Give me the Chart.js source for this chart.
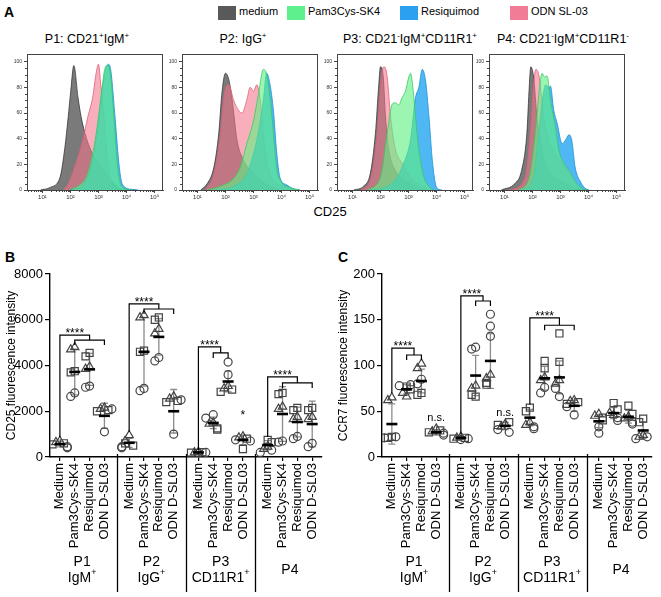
<!DOCTYPE html>
<html>
<head>
<meta charset="utf-8">
<script src="https://cdn.jsdelivr.net/npm/chart.js@4.4.0/dist/chart.umd.min.js"></script>
<style>
  body { margin: 0; width: 661px; height: 597px; background: #fff; position: relative; overflow: hidden;
         font-family: "Liberation Sans", Arial, sans-serif; color: #000; }
  canvas { position: absolute; }
  .lbl { position: absolute; white-space: nowrap; }
  .panel { font-weight: bold; font-size: 14px; }
  .title { font-size: 12.5px; text-align: center; }
  .title sup { font-size: 8px; }
  .leg { position: absolute; top: 6px; height: 14px; }
  .legtxt { position: absolute; top: 5px; font-size: 11px; }
</style>
</head>
<body>
<div class="lbl panel" style="left:4px;top:4px">A</div>
<div class="lbl panel" style="left:5px;top:249px">B</div>
<div class="lbl panel" style="left:338px;top:249px">C</div>
<div id="legend"></div>
<div class="lbl title" style="left:19px;top:31px;width:136px">P1: CD21<sup>+</sup>IgM<sup>+</sup></div>
<div class="lbl title" style="left:175px;top:31px;width:136px">P2: IgG<sup>+</sup></div>
<div class="lbl title" style="left:342px;top:31px;width:136px">P3: CD21<sup>-</sup>IgM<sup>+</sup>CD11R1<sup>+</sup></div>
<div class="lbl title" style="left:495px;top:31px;width:136px">P4: CD21<sup>-</sup>IgM<sup>+</sup>CD11R1<sup>-</sup></div>
<div class="lbl" style="left:300px;top:204px;width:60px;text-align:center;font-size:13px">CD25</div>

<canvas id="h0" width="162" height="157" style="left:5px;top:49px"></canvas>
<canvas id="h1" width="162" height="157" style="left:160px;top:49px"></canvas>
<canvas id="h2" width="162" height="157" style="left:315px;top:49px"></canvas>
<canvas id="h3" width="162" height="157" style="left:467px;top:49px"></canvas>
<canvas id="cd25" width="330" height="352" style="left:0px;top:245px"></canvas>
<canvas id="ccr7" width="329" height="352" style="left:332px;top:245px"></canvas>

<script>
// ---------- panel A: CD25 histograms, points are [log10 CD25, % of max] ----------
const treatNames = ['medium', 'Pam3Cys-SK4', 'Resiquimod', 'ODN SL-03'];
const treatColors = ['#595959', '#5ef08c', '#2b9ff0', '#f07d95'];

const p1Medium = [[0.93,0],[1.28,2],[1.63,10],[1.80,33],[1.92,57],[2.01,77],[2.12,97],[2.27,72],[2.38,57],[2.56,41],[2.91,23],[3.26,13],[3.55,5],[3.78,1],[4.07,0]];
const p1Pam = [[1.98,0],[2.33,4],[2.56,10],[2.79,28],[2.97,52],[3.14,82],[3.23,95],[3.31,97],[3.41,93],[3.55,57],[3.66,23],[3.78,5],[3.95,1],[4.19,0]];
const p1Resi = [[1.98,0],[2.44,4],[2.79,23],[3.02,57],[3.20,88],[3.35,98],[3.44,93],[3.60,54],[3.74,18],[3.86,4],[4.19,0.5],[4.42,0]];
const p1Odn = [[1.74,0],[1.92,5],[2.15,18],[2.44,39],[2.62,57],[2.79,72],[2.93,93],[3.00,98],[3.08,82],[3.20,57],[3.31,26],[3.43,8],[3.55,1],[3.66,0]];

const p2Medium = [[1.12,0],[1.35,5],[1.59,18],[1.76,44],[1.88,77],[2.00,91],[2.12,86],[2.24,70],[2.41,39],[2.65,23],[3.00,13],[3.35,6],[3.59,3],[3.94,0]];
const p2Pam = [[1.35,0],[1.82,3],[2.29,9],[2.53,18],[2.76,36],[3.00,54],[3.18,75],[3.35,94],[3.47,90],[3.59,72],[3.71,44],[3.82,18],[4.00,6],[4.29,2],[4.65,0]];
const p2Resi = [[1.59,0],[2.29,3],[2.76,13],[3.12,39],[3.35,70],[3.47,91],[3.59,82],[3.71,62],[3.82,31],[3.94,10],[4.18,4],[4.41,1],[4.65,0]];
const p2Odn = [[1.29,0],[1.59,13],[1.82,44],[1.96,75],[2.12,82],[2.29,70],[2.47,62],[2.59,60],[2.76,70],[2.88,80],[3.00,77],[3.12,82],[3.24,70],[3.35,44],[3.47,23],[3.65,9],[3.94,4],[4.29,0.5],[4.53,0]];

const p3Medium = [[1.05,0],[1.40,3],[1.64,13],[1.82,44],[1.94,82],[2.00,96],[2.10,88],[2.18,57],[2.30,31],[2.54,15],[2.83,8],[3.19,4],[3.43,1],[3.67,0]];
const p3Pam = [[1.52,0],[2.00,10],[2.24,44],[2.42,67],[2.54,68],[2.65,66],[2.77,72],[2.89,77],[3.01,88],[3.07,91],[3.17,77],[3.25,57],[3.37,31],[3.55,10],[3.73,3],[3.90,0]];
const p3Resi = [[1.64,0],[2.24,3],[2.60,10],[2.83,21],[3.07,39],[3.25,72],[3.37,80],[3.49,94],[3.61,85],[3.73,57],[3.85,23],[3.96,5],[4.08,0.5],[4.20,0]];
const p3Odn = [[1.29,0],[1.64,8],[1.88,44],[2.06,93],[2.14,96],[2.24,88],[2.36,57],[2.54,31],[2.77,21],[3.07,10],[3.43,4],[3.79,0.5],[3.90,0]];

const p4Medium = [[0.89,0],[1.37,5],[1.61,15],[1.80,44],[1.89,82],[1.94,96],[2.04,88],[2.16,57],[2.34,31],[2.58,15],[2.94,8],[3.30,4],[3.66,1],[3.90,0]];
const p4Pam = [[1.49,0],[1.86,8],[2.10,44],[2.24,77],[2.34,91],[2.43,88],[2.52,89],[2.64,70],[2.82,49],[2.94,31],[3.12,21],[3.30,15],[3.54,6],[3.78,1],[3.96,0]];
const p4Resi = [[1.61,0],[2.04,10],[2.22,44],[2.40,77],[2.48,82],[2.58,80],[2.64,81],[2.76,62],[2.88,52],[3.06,36],[3.18,39],[3.30,43],[3.40,39],[3.52,18],[3.72,6],[3.90,1],[4.02,0]];
const p4Odn = [[1.19,0],[1.73,9],[1.92,44],[2.04,82],[2.12,94],[2.24,88],[2.40,57],[2.58,39],[2.82,28],[3.06,21],[3.24,15],[3.42,8],[3.60,3],[3.78,0]];

const histSets = [
  [p1Medium, p1Pam, p1Resi, p1Odn],
  [p2Medium, p2Pam, p2Resi, p2Odn],
  [p3Medium, p3Pam, p3Resi, p3Odn],
  [p4Medium, p4Pam, p4Resi, p4Odn]
];
const histDecades = [1, 2, 3, 4, 5];
const histYTicks = [0, 20, 40, 60, 80, 100];

// ---------- panels B and C ----------
const treatments = ['Medium', 'Pam3Cys-SK4', 'Resiquimod', 'ODN D-SL03'];
const groups = ['P1', 'P2', 'P3', 'P4'];
const groupSub = ['IgM', 'IgG', 'CD11R1', ''];
const donorShapes = ['triangle', 'triangle', 'rect', 'rect', 'circle', 'circle', 'circle'];

// CD25 per donor, [group][treatment][donor]
const cd25P1 = [[700,650,600,550,450,400],[4800,4700,3750,3700,2800,2650],[3950,3850,4550,4400,3100,3050],[2150,2100,2050,2000,2100,1100]];
const cd25P2 = [[950,700,600,500,450,400],[6200,6100,4650,4600,3000,2900],[5600,5400,6100,6000,4350,4200],[2650,2550,2450,2400,2500,1000]];
const cd25P3 = [[220,200,210,190,200,180],[1500,1450,1250,1200,1850,1700],[3100,3000,2950,2850,4150,3600],[900,850,800,350,750,700]];
const cd25P4 = [[450,350,750,650,300,200],[2200,2100,2800,2750,700,650],[1750,1650,2150,2050,900,800],[1750,1650,2150,2050,600,450]];
const cd25Mean = [[560,3720,3830,1800],[620,4600,5250,2000],[200,1490,3300,740],[520,1880,1530,1440]];
const cd25Sd = [[120,1000,700,550],[200,1500,800,950],[20,250,450,200],[200,1200,650,1000]];
const cd25Sig = [
  { group: 0, sub: [1, 3], top: 5330, subY: 5110, leg: 870, text: '****' },
  { group: 1, sub: [1, 3], top: 6690, subY: 6470, leg: 1100, text: '****' },
  { group: 2, sub: [1, 2], top: 4810, subY: 4550, leg: 300, text: '****' },
  { group: 3, sub: [1, 3], top: 3500, subY: 3240, leg: 870, text: '****' }
];
const cd25Notes = [{ group: 2, item: 3, y: 1650, text: '*' }];

// CCR7 per donor
const ccr7P1 = [[65,62,22,21,22,21],[66,70,77,74,79,78],[102,97,70,68,85,80],[31,28,29,27,26,24]];
const ccr7P2 = [[22,21,21,20,20,19],[78,75,66,68,120,118],[90,86,81,79,156,143,132],[36,33,38,35,30,27]];
const ccr7P3 = [[38,35,54,50,33,31],[87,84,105,97,76,70],[84,80,135,104,75,66],[62,61,60,58,55,46]];
const ccr7P4 = [[47,45,43,40,33,26],[46,48,59,52,43,40],[44,42,56,47,38,36],[24,22,42,38,22,20]];
const ccr7Mean = [[36,74,83,27],[21,89,105,34],[43,86,87,56],[39,48,44,29]];
const ccr7Sd = [[22,5,13,3],[1.5,22,30,4],[9,13,18,6],[7,6,7,9]];
const ccr7Sig = [
  { group: 0, sub: [1, 2], top: 119, subY: 111.5, leg: 70, text: '****' },
  { group: 1, sub: [1, 2], top: 176, subY: 170.5, leg: 25, text: '****' },
  { group: 2, sub: [1, 3], top: 152, subY: 144, leg: 57, text: '****' }
];
const ccr7Notes = [{ group: 0, item: 3, y: 39, text: 'n.s.' }, { group: 1, item: 3, y: 45, text: 'n.s.' }];

// legend
const legendLefts = [218, 287, 400, 510];
const legend = document.getElementById('legend');
treatNames.forEach((name, i) => {
  const box = document.createElement('div');
  box.className = 'leg';
  box.style.left = legendLefts[i] + 'px';
  box.style.width = '18px';
  box.style.background = treatColors[i];
  legend.appendChild(box);
  const t = document.createElement('div');
  t.className = 'legtxt';
  t.style.left = (legendLefts[i] + 21) + 'px';
  t.textContent = name;
  legend.appendChild(t);
});

const histFills = ['rgba(85,85,85,0.78)', 'rgba(95,240,130,0.62)', 'rgba(35,165,240,0.8)', 'rgba(245,115,140,0.58)'];
const histLines = ['#383838', '#3cc862', '#1a8fd8', '#e0607a'];
const supDigits = { 1: '\u00b9', 2: '\u00b2', 3: '\u00b3', 4: '\u2074', 5: '\u2075' };

// frame + minor ticks for the histograms
const histFrame = {
  id: 'histFrame',
  afterDraw(chart) {
    const { ctx, chartArea: a, scales: { x, y } } = chart;
    ctx.save();
    ctx.strokeStyle = '#444';
    ctx.lineWidth = 1;
    ctx.strokeRect(a.left + 0.5, a.top + 0.5, a.right - a.left - 1, a.bottom - a.top);
    ctx.beginPath();
    for (let d = 0; d <= 5; d++) {
      for (let k = 2; k <= 9; k++) {
        const v = d + Math.log10(k);
        if (v < x.min || v > x.max) continue;
        const px = Math.round(x.getPixelForValue(v)) + 0.5;
        ctx.moveTo(px, a.bottom);
        ctx.lineTo(px, a.bottom + 2);
      }
    }
    for (let v = 5; v < 100; v += 5) {
      if (v % 20 === 0) continue;
      const py = Math.round(y.getPixelForValue(v)) + 0.5;
      ctx.moveTo(a.left, py);
      ctx.lineTo(a.left - 2, py);
    }
    ctx.stroke();
    ctx.restore();
  }
};

histSets.forEach((sets, p) => {
  // dataset 0 is drawn on top: green, blue, pink, then medium at the back
  const order = [1, 2, 3, 0];
  new Chart(document.getElementById('h' + p), {
    type: 'scatter',
    data: {
      datasets: order.map(i => ({
        data: sets[i].map(pt => ({ x: pt[0], y: pt[1] })),
        showLine: true,
        fill: 'origin',
        backgroundColor: histFills[i],
        borderColor: histLines[i],
        borderWidth: 0.8,
        pointRadius: 0,
        cubicInterpolationMode: 'monotone'
      }))
    },
    options: {
      responsive: false,
      animation: false,
      layout: { padding: { left: 0, right: 4, top: 4, bottom: 0 } },
      plugins: { legend: { display: false }, tooltip: { enabled: false } },
      scales: {
        x: {
          type: 'linear', min: 0.45, max: 5.3,
          afterBuildTicks: s => { s.ticks = histDecades.map(v => ({ value: v })); },
          afterFit: s => { s.height = 16; },
          ticks: { callback: v => '10' + supDigits[v], font: { size: 6 }, color: '#333', padding: 1, maxRotation: 0 },
          grid: { drawOnChartArea: false, tickLength: 3, color: '#444' },
          border: { color: '#444' }
        },
        y: {
          min: 0, max: 106,
          afterBuildTicks: s => { s.ticks = histYTicks.map(v => ({ value: v })); },
          afterFit: s => { s.width = 22; },
          ticks: { font: { size: 5 }, color: '#333', padding: 2 },
          grid: { drawOnChartArea: false, tickLength: 3, color: '#444' },
          border: { color: '#444' }
        }
      }
    },
    plugins: [histFrame]
  });
});

// ---------- dot plots ----------
const groupStep = 14 / 3;
const catPos = (g, i) => g * groupStep + i;

function spreadOffsets(vals, thr) {
  const slots = [0, -0.27, 0.27, -0.5, 0.5, 0, -0.27];
  const placed = [];
  return vals.map(v => {
    const near = placed.filter(p => Math.abs(p - v) < thr).length;
    placed.push(v);
    return slots[Math.min(near, slots.length - 1)];
  });
}

function drawSup(ctx, base, sup, cx, cy, size) {
  ctx.font = size + 'px "Liberation Sans", Arial, sans-serif';
  const wb = ctx.measureText(base).width;
  ctx.font = Math.round(size * 0.65) + 'px "Liberation Sans", Arial, sans-serif';
  const ws = sup ? ctx.measureText(sup).width : 0;
  let x0 = cx - (wb + ws) / 2;
  ctx.textAlign = 'left';
  ctx.textBaseline = 'middle';
  ctx.font = size + 'px "Liberation Sans", Arial, sans-serif';
  ctx.fillText(base, x0, cy);
  if (sup) {
    ctx.font = Math.round(size * 0.65) + 'px "Liberation Sans", Arial, sans-serif';
    ctx.fillText(sup, x0 + wb, cy - size * 0.4);
  }
}

function makeDotChart(id, groupData, means, sds, sig, notes, yMax, yStep, yTitle, thr) {
  const points = [];
  groupData.forEach((grp, g) => {
    grp.forEach((vals, i) => {
      const offs = spreadOffsets(vals, thr);
      vals.forEach((v, d) => points.push({ x: catPos(g, i) + offs[d], y: v, shape: donorShapes[d] }));
    });
  });
  const tickVals = [];
  const tickText = [];
  groups.forEach((_, g) => treatments.forEach((t, i) => { tickVals.push(catPos(g, i)); tickText.push(t); }));

  const decor = {
    id: 'decor',
    beforeDatasetsDraw(chart) {
      const { ctx, scales: { x, y } } = chart;
      ctx.save();
      ctx.strokeStyle = '#8c8c8c';
      ctx.lineWidth = 1.3;
      means.forEach((row, g) => row.forEach((m, i) => {
        const px = x.getPixelForValue(catPos(g, i));
        const hi = y.getPixelForValue(m + sds[g][i]);
        const lo = y.getPixelForValue(Math.max(0, m - sds[g][i]));
        ctx.beginPath();
        ctx.moveTo(px, hi); ctx.lineTo(px, lo);
        ctx.moveTo(px - 3.5, hi); ctx.lineTo(px + 3.5, hi);
        ctx.moveTo(px - 3.5, lo); ctx.lineTo(px + 3.5, lo);
        ctx.stroke();
      }));
      ctx.restore();
    },
    afterDatasetsDraw(chart) {
      const { ctx, scales: { x, y } } = chart;
      ctx.save();
      ctx.strokeStyle = '#000';
      ctx.lineWidth = 2.6;
      means.forEach((row, g) => row.forEach((m, i) => {
        const px = x.getPixelForValue(catPos(g, i));
        const py = y.getPixelForValue(m);
        ctx.beginPath();
        ctx.moveTo(px - 5.5, py); ctx.lineTo(px + 5.5, py);
        ctx.stroke();
      }));
      // significance brackets
      ctx.lineWidth = 1.2;
      ctx.fillStyle = '#000';
      sig.forEach(s => {
        const x0 = x.getPixelForValue(catPos(s.group, 0));
        const xa = x.getPixelForValue(catPos(s.group, s.sub[0]));
        const xb = x.getPixelForValue(catPos(s.group, s.sub[1]));
        const xm = (xa + xb) / 2;
        const yt = y.getPixelForValue(s.top);
        const ys = y.getPixelForValue(s.subY);
        ctx.beginPath();
        ctx.moveTo(x0, y.getPixelForValue(s.leg));
        ctx.lineTo(x0, yt); ctx.lineTo(xm, yt); ctx.lineTo(xm, ys);
        ctx.moveTo(xa, ys + 5); ctx.lineTo(xa, ys); ctx.lineTo(xb, ys); ctx.lineTo(xb, ys + 5);
        ctx.stroke();
        ctx.font = '12px "Liberation Sans", Arial, sans-serif';
        ctx.textAlign = 'center';
        ctx.textBaseline = 'alphabetic';
        ctx.fillText(s.text, (x0 + xm) / 2, yt + 2);
      });
      notes.forEach(n => {
        ctx.font = (n.text === '*' ? '12px' : '11px') + ' "Liberation Sans", Arial, sans-serif';
        ctx.textAlign = 'center';
        ctx.textBaseline = 'alphabetic';
        ctx.fillText(n.text, x.getPixelForValue(catPos(n.group, n.item)), y.getPixelForValue(n.y));
      });
      ctx.restore();
    },
    afterDraw(chart) {
      const { ctx, chartArea: a, scales: { x } } = chart;
      ctx.save();
      ctx.strokeStyle = '#000';
      ctx.lineWidth = 1.3;
      for (let g = 1; g < groups.length; g++) {
        const px = Math.round(x.getPixelForValue(catPos(g, 0) - (groupStep - 3) / 2)) + 0.5;
        ctx.beginPath();
        ctx.moveTo(px, a.bottom - 3);
        ctx.lineTo(px, chart.height - 5);
        ctx.stroke();
      }
      ctx.fillStyle = '#000';
      groups.forEach((name, g) => {
        const cx = x.getPixelForValue(catPos(g, 1.5));
        if (groupSub[g]) {
          drawSup(ctx, name, '', cx, chart.height - 35, 14);
          drawSup(ctx, groupSub[g], '+', cx, chart.height - 19, 14);
        } else {
          drawSup(ctx, name, '', cx, chart.height - 27, 14);
        }
      });
      ctx.restore();
    }
  };

  return new Chart(document.getElementById(id), {
    type: 'scatter',
    data: {
      datasets: [{
        data: points,
        pointStyle: c => c.raw ? c.raw.shape : 'circle',
        pointRadius: c => (c.raw && c.raw.shape === 'rect') ? 5 : (c.raw && c.raw.shape === 'triangle' ? 4.8 : 4),
        backgroundColor: 'rgba(255,255,255,0)',
        borderColor: '#444',
        borderWidth: 1.2
      }]
    },
    options: {
      responsive: false,
      animation: false,
      layout: { padding: { left: 0, right: 6, top: 29, bottom: 0 } },
      plugins: { legend: { display: false }, tooltip: { enabled: false } },
      scales: {
        x: {
          type: 'linear', min: -0.667, max: 17.6,
          afterBuildTicks: s => { s.ticks = tickVals.map(v => ({ value: v })); },
          afterFit: s => { s.height = 140; },
          ticks: {
            callback: (v, i) => tickText[i],
            autoSkip: false, minRotation: 90, maxRotation: 90, padding: 2,
            font: { size: 13, family: '"Liberation Sans", Arial, sans-serif' }, color: '#000'
          },
          grid: { drawOnChartArea: false, tickLength: 4, color: '#000', lineWidth: 1.2 },
          border: { color: '#000', width: 1.4 }
        },
        y: {
          min: 0, max: yMax,
          ticks: { stepSize: yStep, callback: v => String(v), padding: 2,
                   font: { size: 13, family: '"Liberation Sans", Arial, sans-serif' }, color: '#000' },
          afterFit: s => { s.width = 50; },
          title: { display: true, text: yTitle, color: '#000', padding: { top: 4, bottom: 0 },
                   font: { size: 12, family: '"Liberation Sans", Arial, sans-serif' } },
          grid: { drawOnChartArea: false, tickLength: 5, color: '#000', lineWidth: 1.2 },
          border: { color: '#000', width: 1.4 }
        }
      }
    },
    plugins: [decor]
  });
}

makeDotChart('cd25', [cd25P1, cd25P2, cd25P3, cd25P4], cd25Mean, cd25Sd, cd25Sig, cd25Notes,
  8000, 2000, 'CD25 fluorescence intensity', 280);
makeDotChart('ccr7', [ccr7P1, ccr7P2, ccr7P3, ccr7P4], ccr7Mean, ccr7Sd, ccr7Sig, ccr7Notes,
  200, 50, 'CCR7 fluorescence intensity', 7);
</script>
</body>
</html>
